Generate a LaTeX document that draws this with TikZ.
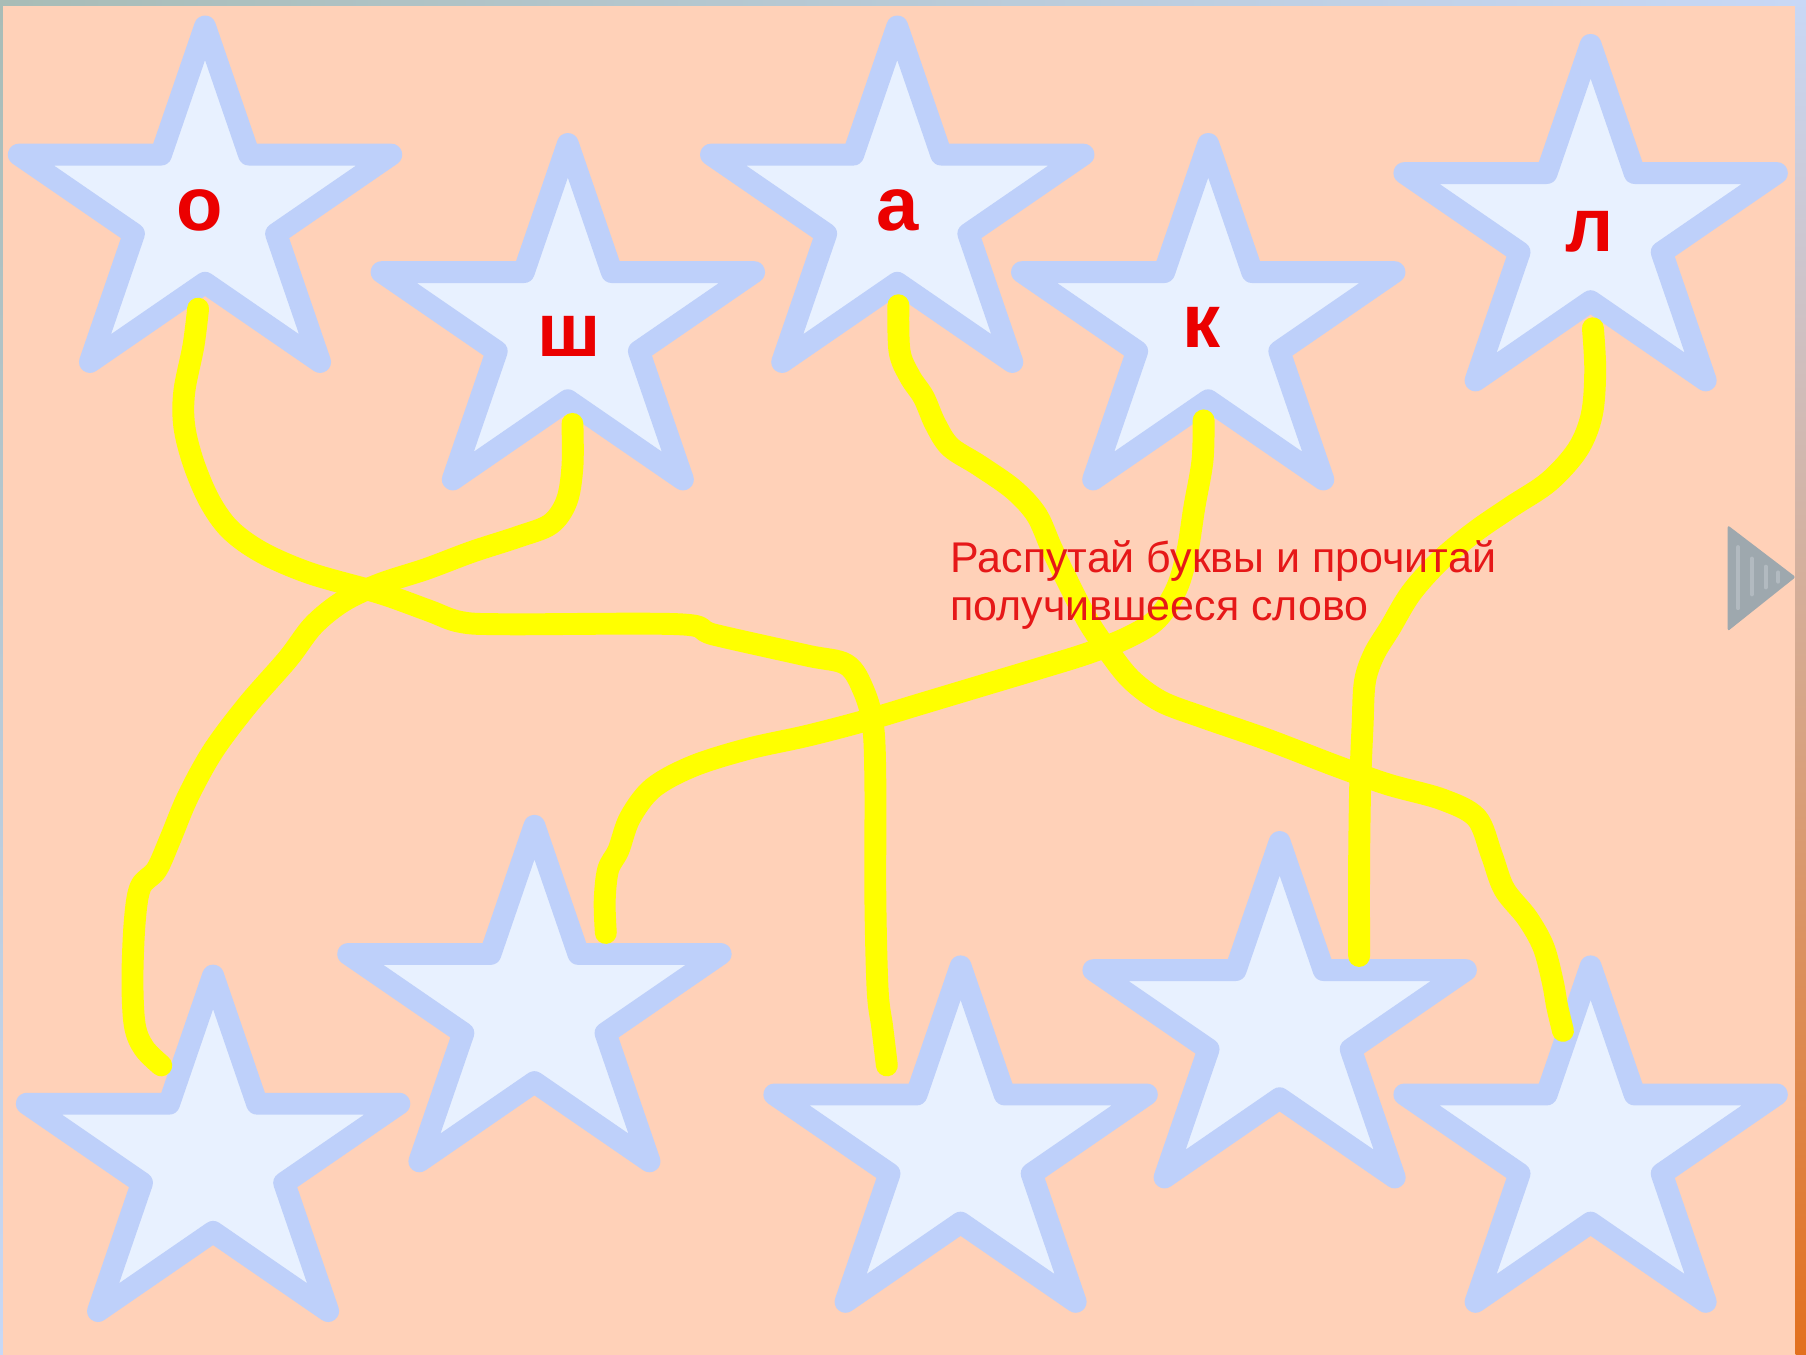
\documentclass[tikz,border=0pt]{standalone}
\usepackage{fontspec}
\setmainfont{Liberation Sans}
\definecolor{peach}{RGB}{255,209,184}
\definecolor{starfill}{RGB}{232,241,255}
\definecolor{starline}{RGB}{190,208,250}
\definecolor{yarn}{RGB}{255,255,0}
\definecolor{lettred}{RGB}{235,0,0}
\definecolor{textred}{RGB}{230,24,24}
\definecolor{playgrey}{RGB}{158,168,174}
\definecolor{playbar}{RGB}{178,186,192}
\definecolor{edgegreen}{RGB}{168,188,182}
\definecolor{edgeblue}{RGB}{200,216,246}
\definecolor{edgetan}{RGB}{214,168,140}
\definecolor{edgeorange}{RGB}{226,112,30}
\tikzset{
  starpath/.style={fill=starfill, draw=starline, line width=19pt, line join=round},
  yarnline/.style={draw=yarn, line width=19pt, line cap=round, line join=round},
  letter/.style={text=lettred, font=\bfseries\fontsize{66}{66}\selectfont, inner sep=0pt},
  instr/.style={text=textred, font=\fontsize{37.3}{42}\selectfont, inner sep=0pt, anchor=base west},
  pics/bigstar/.style={code={
    \path[starpath] (0,-161) -- (38.2,-49.75) -- (161.7,-49.75) -- (61.7,19)
      -- (99.9,130.25) -- (0,61.5) -- (-99.9,130.25) -- (-61.7,19)
      -- (-161.7,-49.75) -- (-38.2,-49.75) -- cycle;}}
}
\begin{document}
\begin{tikzpicture}[x=1pt,y=-1pt]
\useasboundingbox (0,0) rectangle (1568,1176);
\fill[peach] (0,0) rectangle (1568,1176);

% star centres
\coordinate (s1) at (178,184);
\coordinate (s2) at (493,286);
\coordinate (s3) at (779,184);
\coordinate (s4) at (1049,286);
\coordinate (s5) at (1381,200);
\coordinate (s6) at (185,1008);
\coordinate (s7) at (464,878);
\coordinate (s8) at (834,1000);
\coordinate (s9) at (1111,892);
\coordinate (s10) at (1381,1000);

\foreach \s in {s1,s2,s3,s4,s5,s6,s7,s8,s9,s10} {\pic at (\s) {bigstar};}

% line ends
\coordinate (oT) at (172,268);
\coordinate (shT) at (497,368);
\coordinate (aT) at (780,265);
\coordinate (kT) at (1045,365);
\coordinate (lT) at (1383,285);
\coordinate (e6) at (140,925);
\coordinate (e7) at (526,810);
\coordinate (e8) at (770,925);
\coordinate (e9) at (1180,830);
\coordinate (e10) at (1357,895);

% yarn lines
\draw[yarnline] plot[smooth, tension=0.55] coordinates {(oT) (168,300) (160,340) (160,370) (168,402) (182,435) (200,460) (228,480) (270,498) (330,515) (372,530) (400,540) (440,542) (590,542) (620,551) (700,569) (735,577) (750,600) (758,630) (760,680) (760,780) (762,860) (766,892) (e8)};
\draw[yarnline] plot[smooth, tension=0.55] coordinates {(shT) (497,405) (492,435) (478,455) (450,466) (410,479) (370,494) (330,507) (298,522) (272,543) (250,572) (215,612) (185,652) (163,692) (148,728) (136,755) (122,770) (117,800) (115,850) (117,890) (125,910) (e6)};
\draw[yarnline] plot[smooth, tension=0.55] coordinates {(aT) (781,305) (790,327) (802,345) (812,368) (825,388) (850,404) (880,425) (900,447) (913,476) (928,507) (945,540) (962,565) (982,590) (1008,609) (1045,623) (1100,642) (1160,665) (1205,681) (1252,694) (1282,710) (1295,742) (1306,772) (1326,797) (1340,822) (1348,852) (1352,874) (e10)};
\draw[yarnline] plot[smooth, tension=0.55] coordinates {(kT) (1044,400) (1037,440) (1031,478) (1022,510) (1005,537) (980,553) (945,567) (900,581) (850,596) (800,611) (750,626) (700,639) (650,650) (602,665) (567,684) (547,710) (537,738) (528,755) (525,782) (e7)};
\draw[yarnline] plot[smooth, tension=0.55] coordinates {(lT) (1385,322) (1382,360) (1370,390) (1345,418) (1312,440) (1280,462) (1250,487) (1225,515) (1207,545) (1193,568) (1185,592) (1183,630) (1181,680) (1180,750) (e9)};

% letters
\node[letter] (o) at (173,183) {о};
\node[letter] (sh) at (494,292) {ш};
\node[letter] (a) at (779,183) {а};
\node[letter] (k) at (1043,284) {к};
\node[letter] (l) at (1380,201) {л};

% instruction
\node[instr] (t1) at (825,497) {Распутай буквы и прочитай};
\node[instr] (t2) at (825,539) {получившееся слово};

% play button
\fill[playgrey, rounded corners=2pt] (1500,456) -- (1559,501) -- (1500,548) -- cycle;
\draw[playbar, line width=3.5pt, line cap=round] (1509,475) -- (1509,528);
\draw[playbar, line width=3.5pt, line cap=round] (1521,485) -- (1521,516);
\draw[playbar, line width=3.5pt, line cap=round] (1533,492) -- (1533,510);
\draw[playbar, line width=3.5pt, line cap=round] (1544,497) -- (1544,505);

% frame edges
\shade[left color=edgegreen, right color=edgeblue] (0,0) rectangle (1568,4.5);
\shade[top color=edgegreen, bottom color=edgeblue] (0,0) rectangle (2.5,1176);
\shade[top color=edgeblue, bottom color=edgeorange, middle color=edgetan] (1559,0) rectangle (1568,1176);
\end{tikzpicture}
\end{document}
